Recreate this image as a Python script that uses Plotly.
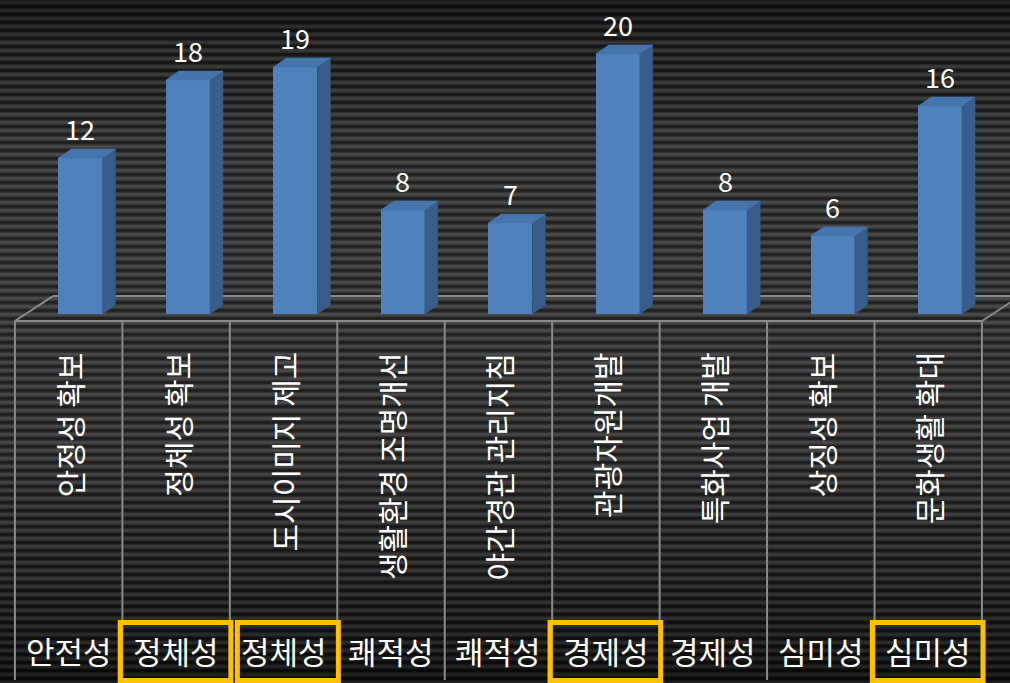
import base64
import struct
import zlib

import numpy as np
import plotly.graph_objects as go

# ---------------- data ----------------
item_labels = ["안정성 확보", "정체성 확보", "도시이미지 제고", "생활환경 조명개선",
               "야간경관 관리지침", "관광자원개발", "특화사업 개발", "상징성 확보", "문화생활 확대"]
group_labels = ["안전성", "정체성", "정체성", "쾌적성", "쾌적성", "경제성", "경제성", "심미성", "심미성"]
values = [12, 18, 19, 8, 7, 20, 8, 6, 16]
highlighted = [False, True, True, False, False, True, False, False, True]

# ---------------- style ----------------
W, H = 1010, 683
FONT = "Noto Sans CJK KR"
FRONT = "#4f81bd"
SIDE = "#385d8a"
TOP = "#4675ad"
GRID = "#8a8a8a"
BOX = "#ffc000"

n = len(values)
idx = np.arange(n)
BAR_OFF = 0.11      # front face centre offset from category centre
BAR_W = 0.41        # front face width
DX, DY = 0.121, 0.69  # bar depth (x units, value units)
FLOOR_DX, FLOOR_FRONT, FLOOR_BACK = 0.354, -0.54, 1.38
Y_TEXT_TOP = -2.77
Y_GROUP = -25.85
Y_BOTTOM = -28.15
BOX_Y0, BOX_Y1 = -23.73, -28.19


# ---------------- striped background (decoration) ----------------
def make_png(gray_rows, width):
    raw = b"".join(b"\x00" + bytes([g]) * width for g in gray_rows)

    def chunk(tag, data):
        c = struct.pack(">I", len(data)) + tag + data
        return c + struct.pack(">I", zlib.crc32(tag + data) & 0xFFFFFFFF)

    ihdr = struct.pack(">IIBBBBB", width, len(gray_rows), 8, 0, 0, 0, 0)
    png = b"\x89PNG\r\n\x1a\n" + chunk(b"IHDR", ihdr) + chunk(b"IDAT", zlib.compress(raw)) + chunk(b"IEND", b"")
    return "data:image/png;base64," + base64.b64encode(png).decode()


ys = np.arange(H)
kp = [0, 40, 150, 300, 450, 560, 640, 683]
light = np.interp(ys, kp, [0x24, 0x36, 0x4a, 0x4c, 0x48, 0x3a, 0x2c, 0x20])
dark = np.interp(ys, kp, [0x0a, 0x12, 0x1e, 0x20, 0x1c, 0x14, 0x0c, 0x06])
prof = 0.5 + 0.5 * np.cos(2 * np.pi * (ys - 2) / 8.0)
rows = np.clip(dark + (light - dark) * prof, 0, 255).astype(int).tolist()
bg_src = make_png(rows, 2)

fig = go.Figure()

# bars: front faces
fig.add_trace(go.Bar(
    x=idx + BAR_OFF, y=values, width=BAR_W, marker=dict(color=FRONT, line=dict(width=0)),
    hoverinfo="skip", showlegend=False))

# bars: side and top faces
for i, v in enumerate(values):
    xl = i + BAR_OFF - BAR_W / 2
    xr = i + BAR_OFF + BAR_W / 2
    fig.add_trace(go.Scatter(
        x=[xr, xr + DX, xr + DX, xr, xr], y=[0, DY, v + DY, v, 0],
        fill="toself", fillcolor=SIDE, mode="lines", line=dict(color=SIDE, width=0.5),
        hoverinfo="skip", showlegend=False))
    fig.add_trace(go.Scatter(
        x=[xl, xl + DX, xr + DX, xr, xl], y=[v, v + DY, v + DY, v, v],
        fill="toself", fillcolor=TOP, mode="lines", line=dict(color=TOP, width=0.5),
        hoverinfo="skip", showlegend=False))

shapes = []
# floor outline (behind bars)
x_left, x_right = -0.5, n - 0.5
floor_pts = [
    (x_left, FLOOR_FRONT, x_left + FLOOR_DX, FLOOR_BACK),
    (x_left + FLOOR_DX, FLOOR_BACK, x_right + FLOOR_DX, FLOOR_BACK),
    (x_left, FLOOR_FRONT, x_right, FLOOR_FRONT),
    (x_right, FLOOR_FRONT, x_right + FLOOR_DX, FLOOR_BACK),
]
for x0, y0, x1, y1 in floor_pts:
    shapes.append(dict(type="line", xref="x", yref="y", x0=x0, y0=y0, x1=x1, y1=y1,
                       layer="below", line=dict(color=GRID, width=2)))
# vertical dividers
for k in range(n + 1):
    shapes.append(dict(type="line", xref="x", yref="y", x0=k - 0.5, x1=k - 0.5,
                       y0=FLOOR_FRONT, y1=Y_BOTTOM, line=dict(color=GRID, width=2)))
# highlight boxes
for i, h in enumerate(highlighted):
    if not h:
        continue
    x0 = i - 0.43 if (i > 0 and highlighted[i - 1]) else i - 0.52
    shapes.append(dict(type="rect", xref="x", yref="y", x0=x0, x1=i + 0.51,
                       y0=BOX_Y0, y1=BOX_Y1, line=dict(color=BOX, width=5)))

annotations = []
for i, v in enumerate(values):
    annotations.append(dict(x=i + BAR_OFF, y=v, xref="x", yref="y", text=str(v), showarrow=False,
                            yanchor="middle", yshift=29, font=dict(family=FONT, size=27, color="white")))
for i, t in enumerate(item_labels):
    annotations.append(dict(x=i, y=Y_TEXT_TOP, xref="x", yref="y", text=t, showarrow=False,
                            textangle=-90, xanchor="center", yanchor="top",
                            font=dict(family=FONT, size=30, color="white")))
for i, t in enumerate(group_labels):
    annotations.append(dict(x=i, y=Y_GROUP, xref="x", yref="y", text=t, showarrow=False,
                            xanchor="center", yanchor="middle",
                            font=dict(family=FONT, size=31, color="white")))

fig.update_layout(
    width=W, height=H, margin=dict(l=0, r=0, t=0, b=0),
    paper_bgcolor="#000000", plot_bgcolor="rgba(0,0,0,0)",
    xaxis=dict(range=[-0.639, 8.761], visible=False, fixedrange=True),
    yaxis=dict(range=[-28.38, 24.15], visible=False, fixedrange=True),
    bargap=0, shapes=shapes, annotations=annotations,
    images=[dict(source=bg_src, xref="paper", yref="paper", x=0, y=1, sizex=1, sizey=1,
                 xanchor="left", yanchor="top", sizing="stretch", layer="below")],
)

fig.write_html("out.html", config={"displayModeBar": False},
               post_script="document.body.style.margin='0';document.body.style.overflow='hidden';")
